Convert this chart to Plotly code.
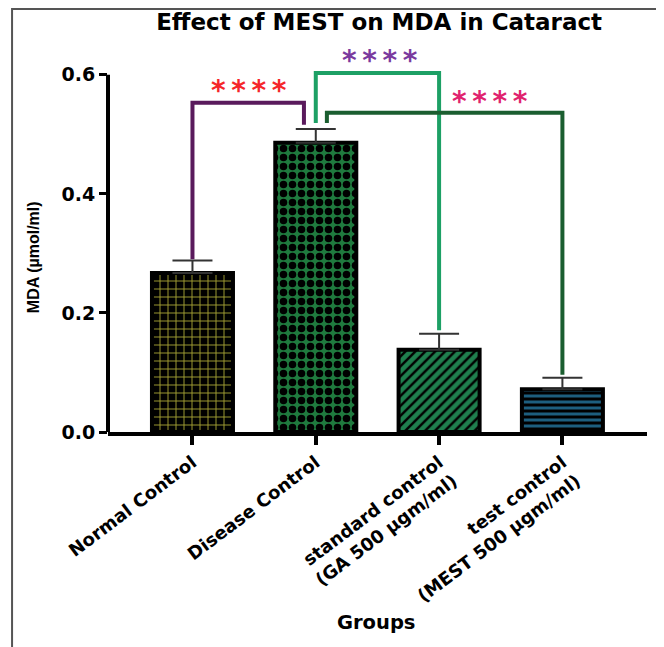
import plotly.graph_objects as go

# ---------------- data ----------------
groups = ["Normal Control", "Disease Control",
          "standard control<br>(GA 500 µgm/ml)",
          "test control<br>(MEST 500 µgm/ml)"]
mda_mean = [0.267, 0.486, 0.138, 0.072]
mda_sem = [0.021, 0.023, 0.027, 0.019]
y_ticks = [0.0, 0.2, 0.4, 0.6]
# significance comparisons: (from group, to group, label)
comparisons = [(0, 1, "****"), (1, 2, "****"), (1, 3, "****")]

title_text = "Effect of MEST on MDA in Cataract"
x_title = "Groups"
y_title = "MDA (µmol/ml)"

# ---------------- styles ----------------
BOLD = "DejaVu Sans"
patterns = [
    dict(shape="+", bgcolor="#000000", fgcolor="#a3a032", size=8, solidity=0.22, fillmode="replace"),
    dict(shape=".", bgcolor="#1f7a3e", fgcolor="#000000", size=9, solidity=0.55, fillmode="replace"),
    dict(shape="/", bgcolor="#1f7f4e", fgcolor="#000000", size=7, solidity=0.35, fillmode="replace"),
    dict(shape="-", bgcolor="#000000", fgcolor="#1d5e7e", size=6, solidity=0.5, fillmode="replace"),
]
bar_colors = [p["bgcolor"] for p in patterns]

x_pos = list(range(len(groups)))

fig = go.Figure()
for i in x_pos:
    fig.add_trace(go.Bar(
        x=[x_pos[i]], y=[mda_mean[i]], width=0.657,
        marker=dict(color=bar_colors[i], pattern=patterns[i],
                    line=dict(color="black", width=4)),
        error_y=dict(type="data", array=[mda_sem[i]], arrayminus=[0], symmetric=False,
                     color="#333333", thickness=2, width=20),
        showlegend=False, hoverinfo="skip",
    ))

# ---------------- significance brackets ----------------
bracket_style = [
    dict(color="#5a1a5c", star="#f5262a", dxl=0.0, dxr=-0.096, top=0.553, gl=0.002, gr=0.007, sx=0.46, sy=0.583),
    dict(color="#1da065", star="#7a3a9e", dxl=0.0, dxr=0.0, top=0.603, gl=0.010, gr=0.006, sx=1.52, sy=0.634),
    dict(color="#1b5e30", star="#e0226e", dxl=0.09, dxr=0.0, top=0.536, gl=0.010, gr=0.005, sx=2.41, sy=0.566),
]
shapes = []
annotations = []
for (a, b, lab), st in zip(comparisons, bracket_style):
    xl = x_pos[a] + st["dxl"]
    xr = x_pos[b] + st["dxr"]
    yl = mda_mean[a] + mda_sem[a] + st["gl"]
    yr = mda_mean[b] + mda_sem[b] + st["gr"]
    shapes.append(dict(type="path", xref="x", yref="y",
                       path=f"M {xl} {yl} L {xl} {st['top']} L {xr} {st['top']} L {xr} {yr}",
                       line=dict(color=st["color"], width=4)))
    annotations.append(dict(x=st["sx"], y=st["sy"], xref="x", yref="y",
                            text="<b>" + "\u2009".join(lab) + "</b>", showarrow=False,
                            font=dict(family=BOLD, size=28, color=st["star"]),
                            xanchor="center", yanchor="middle", yshift=-6))

# y axis line drawn only up to the last tick
shapes.append(dict(type="line", xref="paper", yref="y", x0=0, x1=0, y0=0, y1=y_ticks[-1],
                   line=dict(color="black", width=4)))
# outer frame (left, top, right edges)
shapes.append(dict(type="path", xref="paper", yref="paper",
                   path="M -0.178 -0.6 L -0.178 1.093 L 1.021 1.093 L 1.021 -0.6",
                   line=dict(color="#555555", width=2)))

annotations.append(dict(x=-0.139, y=0.452, xref="paper", yref="paper", text="<b>" + y_title + "</b>",
                        textangle=-90, showarrow=False,
                        font=dict(family="Liberation Sans", size=16, color="black"),
                        xanchor="center", yanchor="middle"))
annotations.append(dict(x=0.497, y=-0.491, xref="paper", yref="paper", text="<b>" + x_title + "</b>",
                        showarrow=False, font=dict(family=BOLD, size=19.5, color="black"),
                        xanchor="center", yanchor="middle"))

W, H = 656, 639
fig.update_layout(
    width=W, height=H, autosize=False,
    margin=dict(l=100, r=17, t=37, b=215),
    paper_bgcolor="white", plot_bgcolor="white",
    title=dict(text="<b>" + title_text + "</b>", x=0.503, xref="paper", xanchor="center",
               y=1 - 14 / H, yref="container", yanchor="middle",
               font=dict(family=BOLD, size=23, color="black")),
    barmode="overlay",
    shapes=shapes, annotations=annotations,
    xaxis=dict(range=[-0.685, 3.686], tickvals=x_pos, ticktext=["<b>" + g + "</b>" for g in groups],
               tickangle=-37, tickfont=dict(family=BOLD, size=18, color="black"),
               showline=True, linecolor="black", linewidth=4,
               ticks="outside", ticklen=9, tickwidth=4, tickcolor="black",
               showgrid=False, zeroline=False, fixedrange=True),
    yaxis=dict(range=[0, 0.65], tickvals=y_ticks, ticktext=["<b>%.1f</b>" % v for v in y_ticks],
               tickfont=dict(family=BOLD, size=19, color="black"),
               showline=False, ticks="outside", ticklen=8, tickwidth=3, tickcolor="black",
               showgrid=False, zeroline=False, fixedrange=True),
)

fig.write_html("out.html")
